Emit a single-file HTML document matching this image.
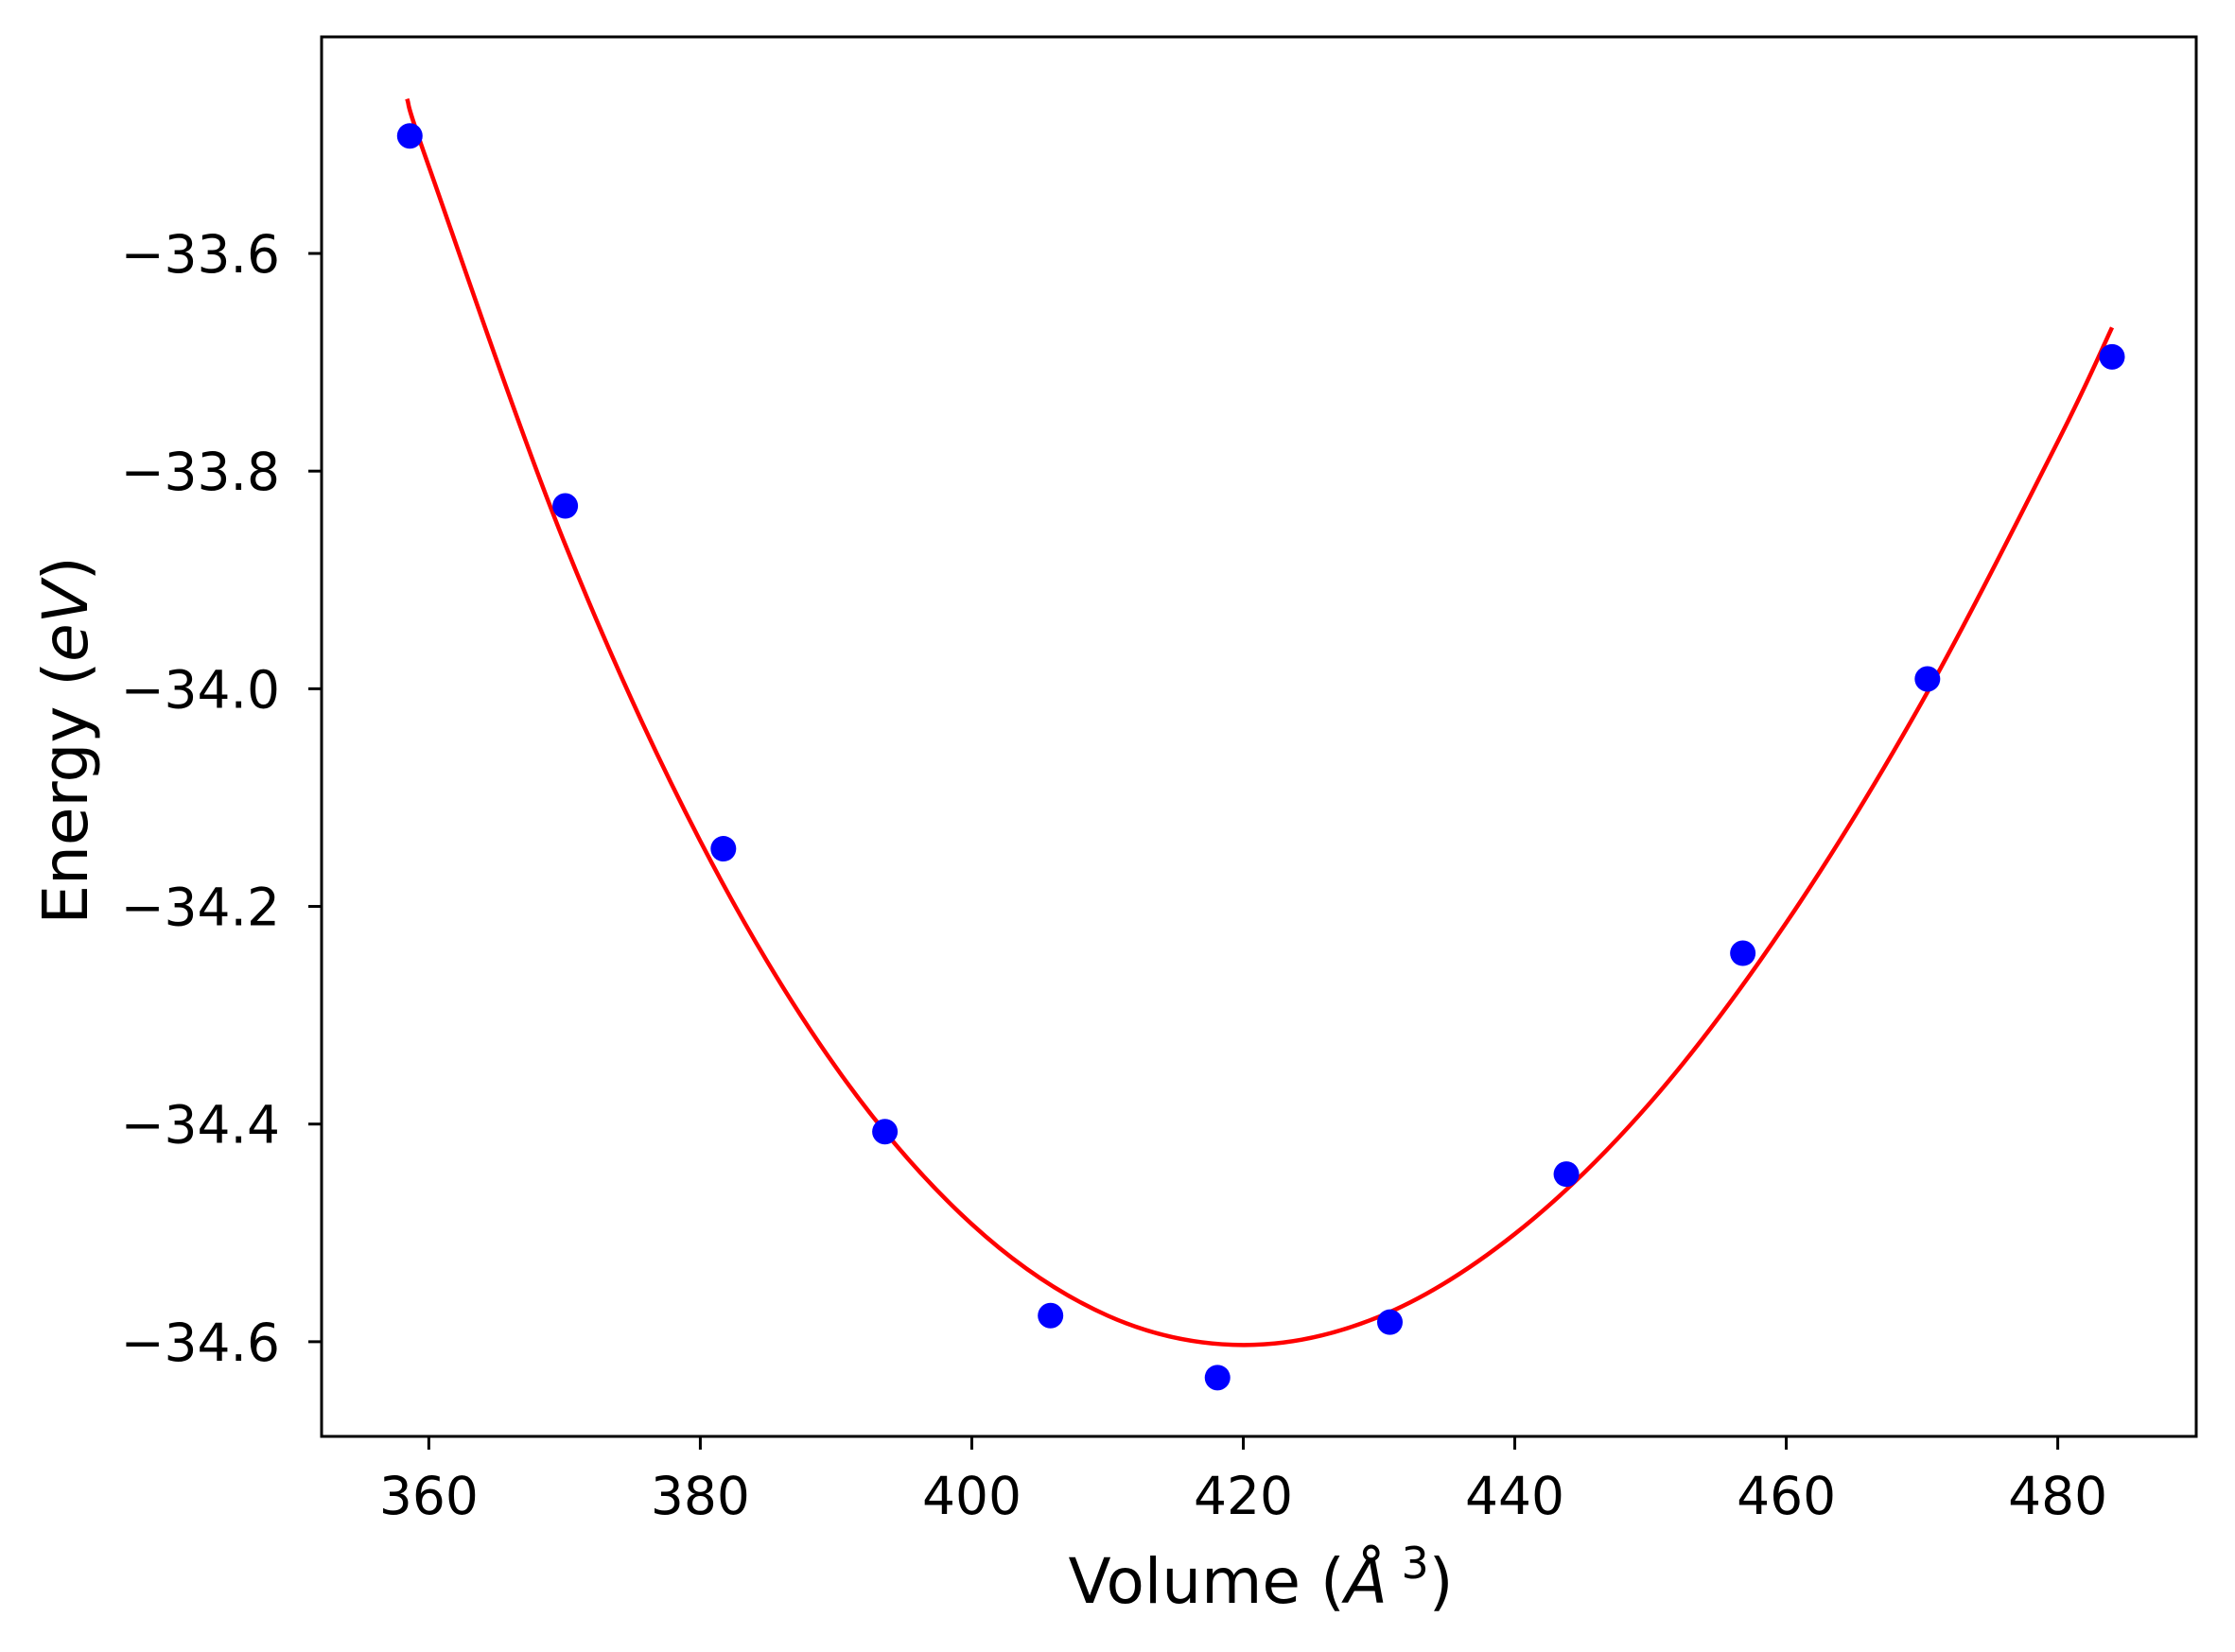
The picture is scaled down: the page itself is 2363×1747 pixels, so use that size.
<!DOCTYPE html>
<html><head><meta charset="utf-8"><style>
body{margin:0;background:#fff}
svg{display:block;font-family:"DejaVu Sans","Liberation Sans",sans-serif}
</style></head><body>
<svg id="chart" width="2363" height="1747" viewBox="0 0 2363 1747" xmlns="http://www.w3.org/2000/svg">
<rect width="2363" height="1747" fill="#fff"/>
<g id="plot"></g>
</svg>
<script>
const volumes = [358.6, 370.05, 381.7, 393.6, 405.8, 418.1, 430.8, 443.8, 456.8, 470.4, 484.0];
const energies = [-33.492, -33.832, -34.147, -34.407, -34.576, -34.633, -34.582, -34.446, -34.243, -33.991, -33.695];
const fitVolumes = [358.4, 360, 370, 380, 390, 400, 410, 420, 430, 440, 450, 460, 470, 480, 484.0];
const fitEnergies = [-33.458, -33.520, -33.866, -34.140, -34.348, -34.492, -34.576, -34.603, -34.577, -34.501, -34.380, -34.215, -34.012, -33.773, -33.668];
const xTicks = [360, 380, 400, 420, 440, 460, 480];
const yTicks = [-33.6, -33.8, -34.0, -34.2, -34.4, -34.6];

const L = 340, R = 2322, T = 39, B = 1519;
const xMin = 352.1, xMax = 490.2, yMax = -33.401, yMin = -34.687;
const sx = v => L + (v - xMin) / (xMax - xMin) * (R - L);
const sy = v => T + (yMax - v) / (yMax - yMin) * (B - T);
const NS = 'http://www.w3.org/2000/svg';
const g = document.getElementById('plot');
function mk(tag, attrs, text) {
  const e = document.createElementNS(NS, tag);
  for (const k in attrs) e.setAttribute(k, attrs[k]);
  if (text !== undefined) e.textContent = text;
  g.appendChild(e);
  return e;
}
const P = fitVolumes.map((v, i) => [sx(v), sy(fitEnergies[i])]);
let d = `M${P[0][0]},${P[0][1]}`;
for (let i = 0; i < P.length - 1; i++) {
  const p0 = P[Math.max(0, i - 1)], p1 = P[i], p2 = P[i + 1], p3 = P[Math.min(P.length - 1, i + 2)];
  const c1 = [p1[0] + (p2[0] - p0[0]) / 6, p1[1] + (p2[1] - p0[1]) / 6];
  const c2 = [p2[0] - (p3[0] - p1[0]) / 6, p2[1] - (p3[1] - p1[1]) / 6];
  d += ` C${c1[0]},${c1[1]} ${c2[0]},${c2[1]} ${p2[0]},${p2[1]}`;
}
const curve = mk('path', {d: d, fill: 'none', stroke: '#ff0000', 'stroke-width': 4.5});


volumes.forEach((v, i) => {
  const c = mk('circle', {cx: sx(v), cy: sy(energies[i]), r: 13.5, fill: '#0000ff'});
  
  
});
const frame = mk('rect', {x: L, y: T, width: R - L, height: B - T, fill: 'none', stroke: '#000', 'stroke-width': 3});


xTicks.forEach(t => {
  const x = sx(t);
  const tk = mk('line', {x1: x, x2: x, y1: B, y2: B + 14, stroke: '#000', 'stroke-width': 3});
  
  
  const lb = mk('text', {x: x, y: 1601, 'font-size': 55, 'text-anchor': 'middle'}, String(t));
  
  
});
yTicks.forEach(t => {
  const y = sy(t);
  const tk = mk('line', {x1: L - 14, x2: L, y1: y, y2: y, stroke: '#000', 'stroke-width': 3});
  
  
  const lb = mk('text', {x: 296, y: y + 20, 'font-size': 55, 'text-anchor': 'end'}, '\u2212' + Math.abs(t).toFixed(1));
  
  
});
const xl = mk('text', {x: 1333, y: 1695, 'font-size': 66, 'text-anchor': 'middle'});
xl.innerHTML = 'Volume (<tspan font-style="italic">Å</tspan><tspan font-size="46" dy="-26"> 3</tspan><tspan dy="26">)</tspan>';


const yl = mk('text', {x: 0, y: 0, 'font-size': 66, 'text-anchor': 'middle', transform: `translate(92,${(T + B) / 2 + 4}) rotate(-90)`});
yl.innerHTML = 'Energy (<tspan font-style="italic">eV</tspan>)';


</script>
</body></html>
